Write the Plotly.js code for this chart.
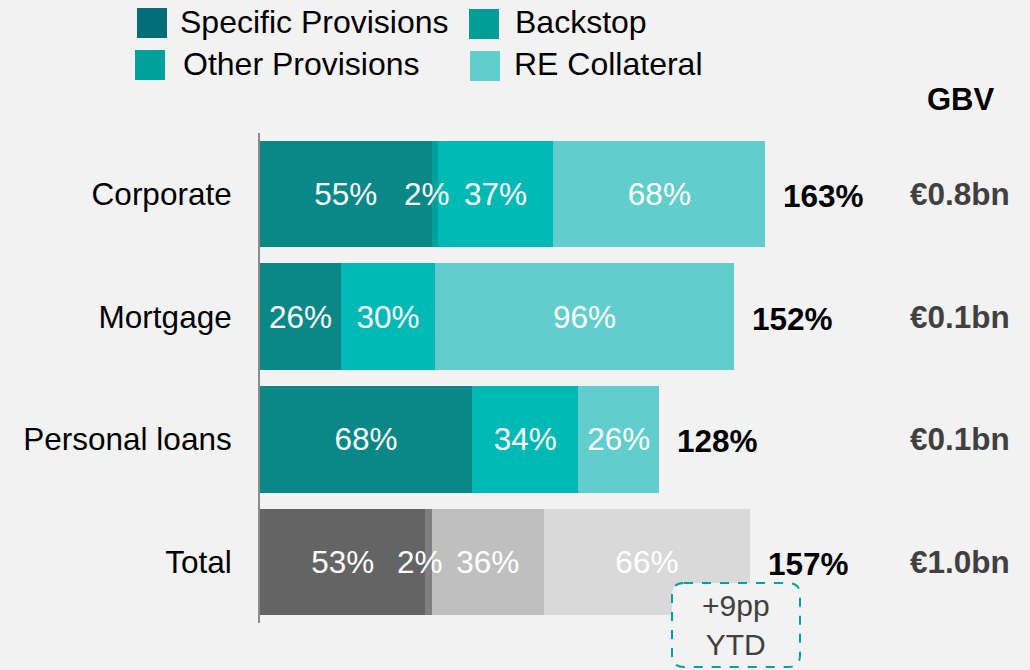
<!DOCTYPE html>
<html>
<head>
<meta charset="utf-8">
<script src="https://cdn.plot.ly/plotly-3.0.1.min.js"></script>
<style>
  html, body { margin: 0; padding: 0; background: #f2f2f2; }
  #chart { width: 1030px; height: 670px; }
</style>
</head>
<body>
<div id="chart"></div>
<script>
// ---- data ----
const categories = ['Corporate', 'Mortgage', 'Personal loans', 'Total'];
const seriesNames = ['Specific Provisions', 'Backstop', 'Other Provisions', 'RE Collateral'];
const specificProvisions = [55, 26, 68, 53];
const backstop = [2, 0, 0, 2];
const otherProvisions = [37, 30, 34, 36];
const reCollateral = [68, 96, 26, 66];
const coverageLabels = ['163%', '152%', '128%', '157%'];
const gbvLabels = ['€0.8bn', '€0.1bn', '€0.1bn', '€1.0bn'];
const gbvHeader = 'GBV';
const ytdNote = ['+9pp', 'YTD'];

// ---- styling ----
const FONT = 'Arial, "Liberation Sans", sans-serif';
const FS = 31.5;
const W = 1030, H = 670;
const px = x => x / W;
const py = y => 1 - y / H;

const barColors = {
  'Specific Provisions': ['#0a8787', '#0a8787', '#0a8787', '#646464'],
  'Backstop':            ['#00a19a', '#00a19a', '#00a19a', '#7f7f7f'],
  'Other Provisions':    ['#00b8b4', '#00b8b4', '#00b8b4', '#bfbfbf'],
  'RE Collateral':       ['#62cdcd', '#62cdcd', '#62cdcd', '#d9d9d9']
};
const legendColors = ['#006e78', '#009e96', '#00a19a', '#62cdcd'];

const seriesValues = [specificProvisions, backstop, otherProvisions, reCollateral];
const pct = v => v > 0 ? v + '%' : '';

const traces = seriesValues.map((vals, i) => ({
  type: 'bar',
  orientation: 'h',
  name: seriesNames[i],
  y: categories,
  x: vals,
  marker: { color: barColors[seriesNames[i]], line: { width: 0 } },
  text: i === 1 ? vals.map(() => '') : vals.map(pct),
  textposition: 'inside',
  insidetextanchor: 'middle',
  textangle: 0,
  constraintext: 'none',
  textfont: { family: FONT, size: FS, color: '#ffffff' },
  hoverinfo: 'skip',
  showlegend: false
}));

const totals = categories.map((c, k) => seriesValues.reduce((s, arr) => s + arr[k], 0));

const annotations = [];
// backstop labels (drawn on top so they can overflow their thin segment)
categories.forEach((c, k) => {
  if (backstop[k] > 0) {
    annotations.push({
      x: specificProvisions[k] + backstop[k] / 2, y: c, xref: 'x', yref: 'y',
      text: pct(backstop[k]), showarrow: false, xanchor: 'center', yanchor: 'middle',
      xshift: -8,
      font: { family: FONT, size: FS, color: '#ffffff' }
    });
  }
});
// coverage totals
categories.forEach((c, k) => {
  annotations.push({
    x: totals[k], y: c, xref: 'x', yref: 'y',
    text: '<b>' + coverageLabels[k] + '</b>', showarrow: false,
    xanchor: 'left', yanchor: 'middle', xshift: 16, yshift: -2,
    font: { family: FONT, size: FS, color: '#000000' }
  });
});
// GBV column
annotations.push({
  x: px(961), y: py(99), xref: 'paper', yref: 'paper',
  text: '<b>' + gbvHeader + '</b>', showarrow: false, xanchor: 'center', yanchor: 'middle',
  font: { family: FONT, size: 31, color: '#000000' }
});
categories.forEach((c, k) => {
  annotations.push({
    x: px(960), y: c, xref: 'paper', yref: 'y',
    text: '<b>' + gbvLabels[k] + '</b>', showarrow: false, xanchor: 'center', yanchor: 'middle',
    font: { family: FONT, size: FS, color: '#404040' }
  });
});
// legend texts
const legendPos = [
  { sx: 137, sy: 8,  tx: 178, ty: 22 },
  { sx: 469, sy: 9,  tx: 513, ty: 22 },
  { sx: 135, sy: 50, tx: 181, ty: 64 },
  { sx: 470, sy: 51, tx: 512, ty: 64 }
];
const shapes = [];
seriesNames.forEach((n, i) => {
  const p = legendPos[i];
  shapes.push({
    type: 'rect', xref: 'paper', yref: 'paper',
    x0: px(p.sx), x1: px(p.sx + 30), y0: py(p.sy), y1: py(p.sy + 30),
    fillcolor: legendColors[i], line: { width: 0 }
  });
  annotations.push({
    x: px(p.tx), y: py(p.ty), xref: 'paper', yref: 'paper',
    text: n, showarrow: false, xanchor: 'left', yanchor: 'middle',
    font: { family: FONT, size: 32, color: '#000000' }
  });
});
// +9pp YTD rounded dashed box
(function () {
  const x0 = 672, x1 = 800, y0 = 583, y1 = 667, r = 12;
  const P = (x, y) => px(x) + ',' + py(y);
  const path = 'M' + P(x0 + r, y0) + ' L' + P(x1 - r, y0) + ' Q' + P(x1, y0) + ' ' + P(x1, y0 + r) +
    ' L' + P(x1, y1 - r) + ' Q' + P(x1, y1) + ' ' + P(x1 - r, y1) +
    ' L' + P(x0 + r, y1) + ' Q' + P(x0, y1) + ' ' + P(x0, y1 - r) +
    ' L' + P(x0, y0 + r) + ' Q' + P(x0, y0) + ' ' + P(x0 + r, y0) + ' Z';
  shapes.push({
    type: 'path', xref: 'paper', yref: 'paper', path: path, layer: 'above',
    fillcolor: '#f2f2f2', line: { color: '#00a19a', width: 2, dash: 'dash' }
  });
  annotations.push({
    x: px(736), y: py(625), xref: 'paper', yref: 'paper',
    text: ytdNote.join('<br>'), showarrow: false, xanchor: 'center', yanchor: 'middle',
    font: { family: FONT, size: 30, color: '#404040' }
  });
})();

const layout = {
  width: W, height: H,
  margin: { l: 0, r: 0, t: 0, b: 0, pad: 0 },
  paper_bgcolor: '#f2f2f2',
  plot_bgcolor: '#f2f2f2',
  barmode: 'stack',
  bargap: 0.13,
  showlegend: false,
  font: { family: FONT },
  xaxis: {
    domain: [px(260), 1],
    range: [0, 770 / 3.12],
    showgrid: false, zeroline: false, showline: false,
    showticklabels: false, ticks: '', fixedrange: true
  },
  yaxis: {
    type: 'category',
    domain: [py(623.3), py(132.7)],
    range: [3.5, -0.5],
    showgrid: false, zeroline: false,
    showline: true, linecolor: '#8c8c8c', linewidth: 2,
    ticks: '', ticklabelstandoff: 20,
    tickfont: { family: FONT, size: FS, color: '#000000' },
    fixedrange: true
  },
  shapes: shapes,
  annotations: annotations
};

Plotly.newPlot('chart', traces, layout, { displayModeBar: false, staticPlot: true });
</script>
</body>
</html>
